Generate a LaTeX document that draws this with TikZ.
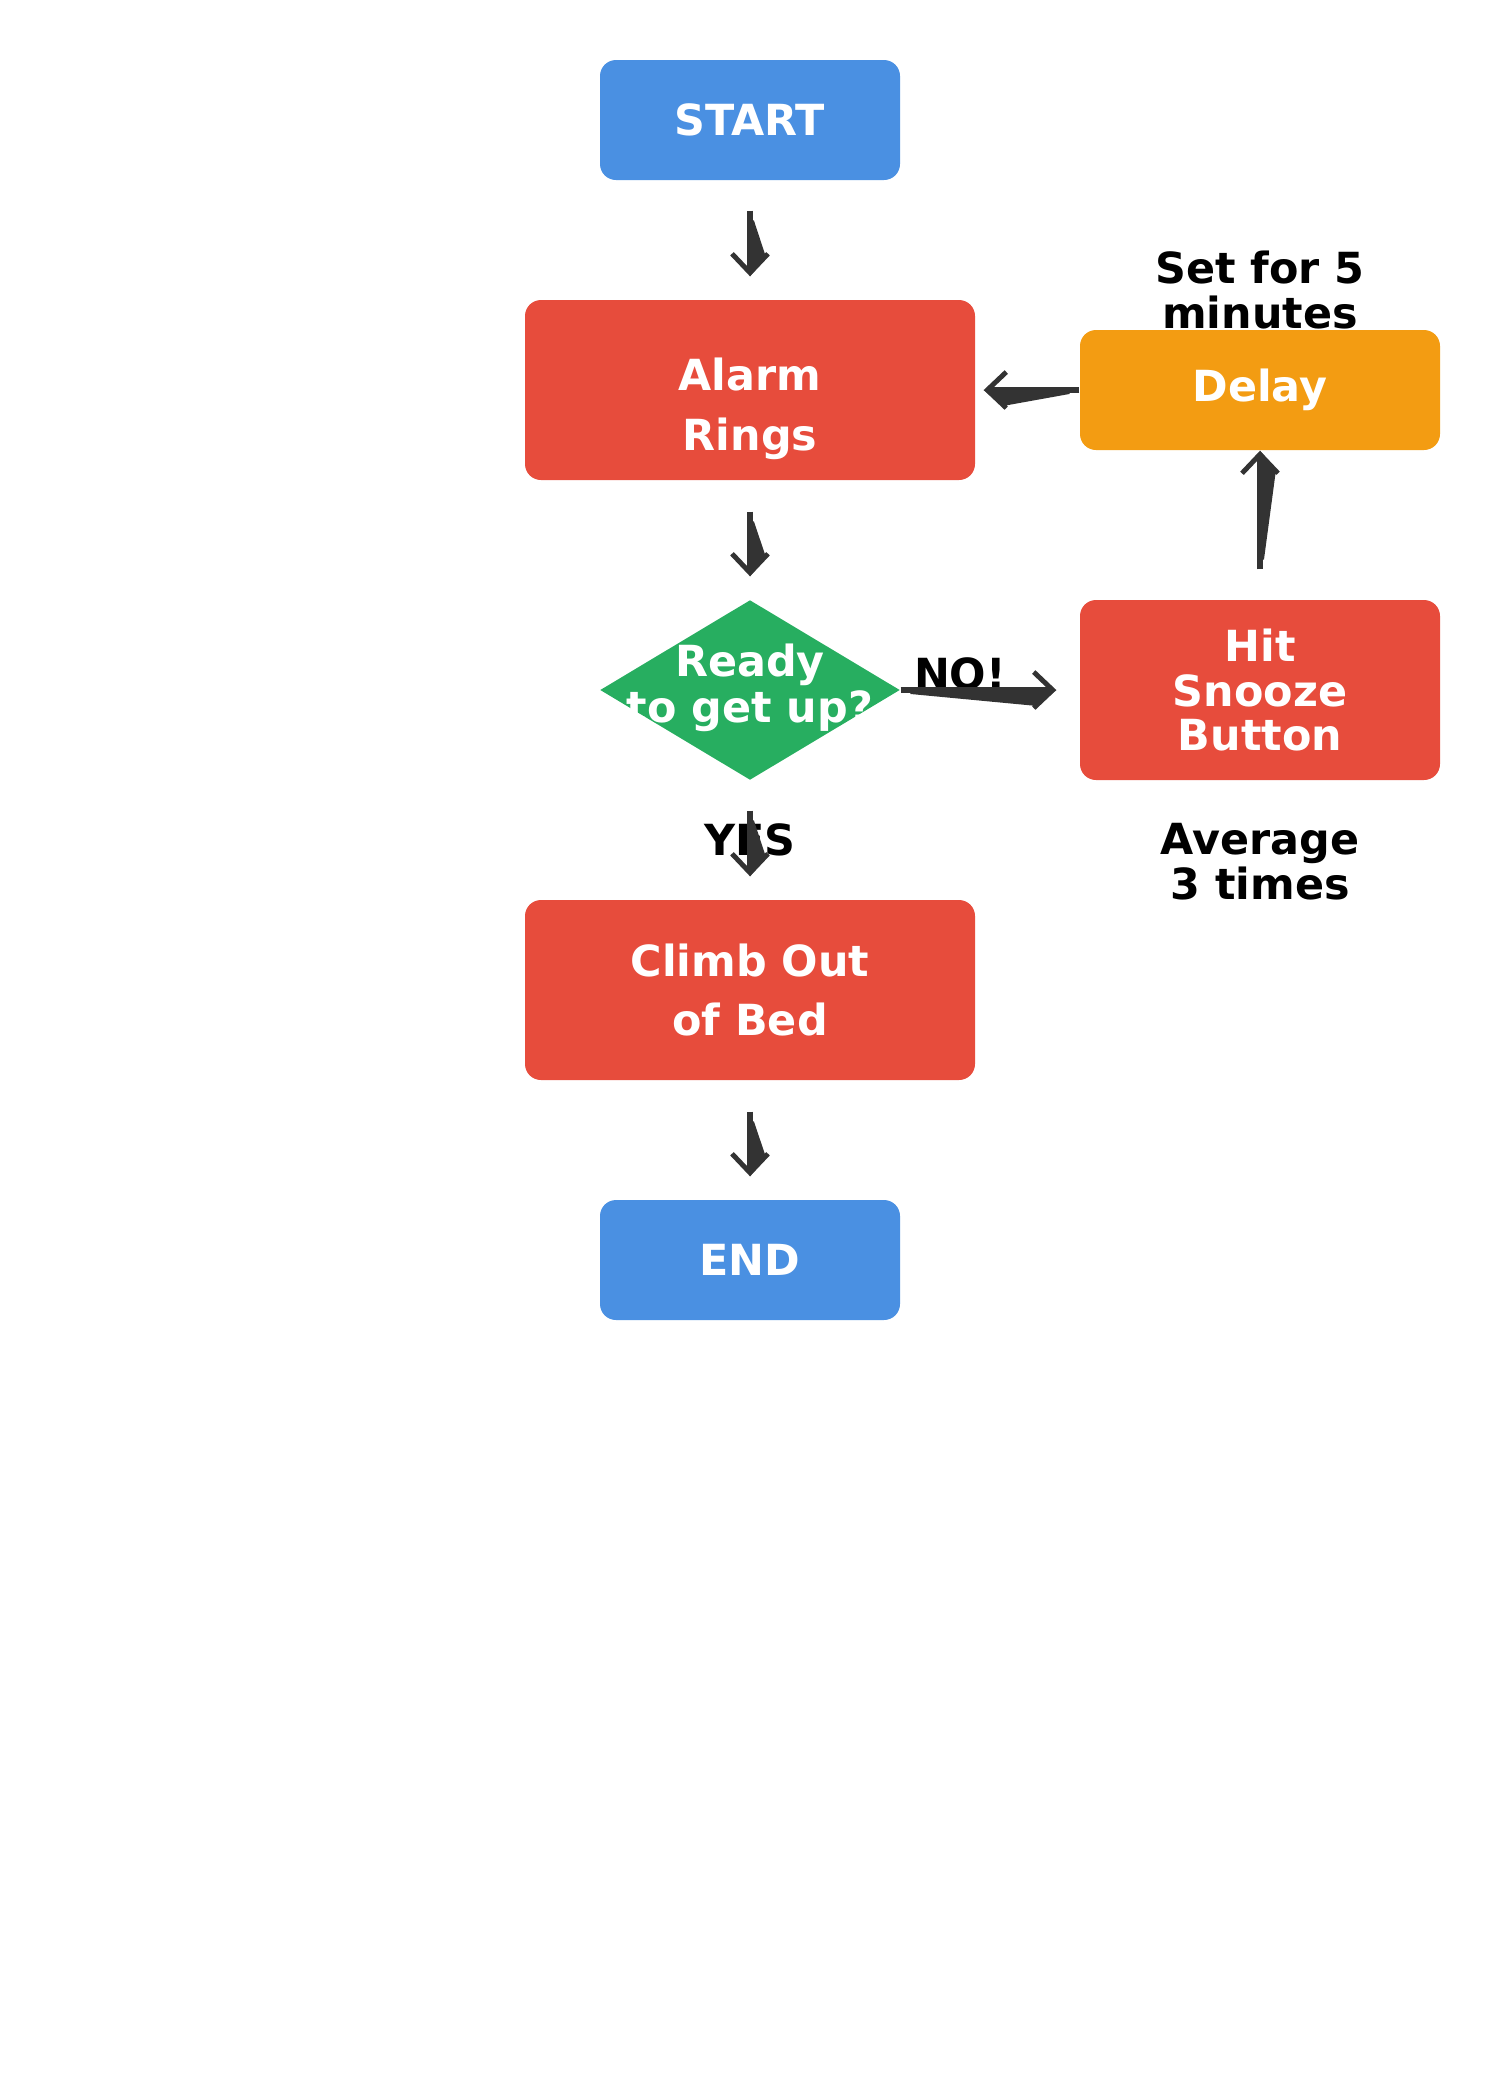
\documentclass[tikz,border=0pt]{standalone}
\usepackage{fontspec}
\setmainfont{DejaVu Sans}
\usetikzlibrary{shapes.geometric, arrows.meta, decorations.markings}

\definecolor{startblue}{HTML}{4A90E2}
\definecolor{procred}{HTML}{E74C3C}
\definecolor{delayorange}{HTML}{F39C12}
\definecolor{decgreen}{HTML}{27AE60}
\definecolor{arrowgray}{HTML}{333333}

\newcommand{\boxfont}{\fontsize{12.2}{12.8}\selectfont\bfseries}

\tikzstyle{startstop} = [rectangle, rounded corners=1.6mm,
minimum width=3cm,
minimum height=1.2cm,
text centered,
text=white,
font=\boxfont,
fill=startblue]
\tikzstyle{process} = [rectangle, rounded corners=1.6mm,
minimum width=4.5cm,
minimum height=1.8cm,
align=center,
text=white,
font=\fontsize{12.2}{17}\selectfont\bfseries,
fill=procred]
\tikzstyle{snooze} = [rectangle, rounded corners=1.6mm,
minimum width=3.6cm,
minimum height=1.8cm,
align=center,
text=white,
font=\boxfont,
fill=procred]
\tikzstyle{delaybox} = [rectangle, rounded corners=1.6mm,
minimum width=3.6cm,
minimum height=1.2cm,
text centered,
text=white,
font=\boxfont,
fill=delayorange]
\tikzstyle{decision} = [diamond,
minimum width=3cm,
minimum height=1.8cm,
inner sep=0pt,
text=white,
font=\boxfont,
fill=decgreen]
\tikzstyle{note} = [align=center, font=\boxfont]

% stem, tapered wedge and open barb: shorten start, shorten end, wedge side
\tikzset{sketch/.style n args={3}{draw=arrowgray, line width=1.7pt,
  -{Straight Barb[length=1.9mm, width=3.6mm, line width=1.4pt]},
  shorten <=#1, shorten >=#2,
  postaction={decorate, decoration={markings, mark=at position 0.5 with {
    \pgfmathsetmacro\halflen{\pgfdecoratedpathlength/2}
    \fill[arrowgray, -, shorten <=0pt, shorten >=0pt]
      ({-\halflen pt+#1+0.8mm},0) -- ({-\halflen pt+#1+1mm},{#3*0.4mm})
      -- ({\halflen pt-#2-1.9mm},{#3*1.6mm}) -- ({\halflen pt-#2},0) -- cycle;}}}}}

\begin{document}
\begin{tikzpicture}[node distance=3cm]
\useasboundingbox (0,0) rectangle (15,-21);

\node (start) [startstop] at (7.5,-1.2) {START};

\node (alarm) [process, below of=start, yshift=0.3cm] {\rule{0pt}{7mm}Alarm\\Rings};

\node (decision) [decision, below of=alarm] {\makebox[0pt]{\begin{tabular}{@{}c@{}}Ready\\to get up?\end{tabular}}};

\node (climb) [process, below of=decision] {Climb Out\\of Bed};

\node (end) [startstop, below of=climb, yshift=0.3cm] {END};

\node (delay) [delaybox, right of=alarm, xshift=2.1cm] {Delay};

\node (snooze) [snooze, right of=decision, xshift=2.1cm] {Hit\\Snooze\\Button};

\node (setnote) [note, above of=delay, node distance=1cm] {Set for 5\\minutes};
\node (avgnote) [note, below of=snooze, node distance=1.72cm] {Average\\3 times};
\node (yes) [note, below of=decision, node distance=1.5cm] {YES};
\node (no) [note, right of=decision, node distance=2.1cm, yshift=0.165cm] {NO!};

\draw [sketch={3mm}{2.3mm}{1}] (start) -- (alarm);
\draw [sketch={3.1mm}{2.3mm}{1}] (alarm) -- (decision);
\draw [sketch={3mm}{2.3mm}{1}] (decision) -- (climb);
\draw [sketch={3.1mm}{2.3mm}{1}] (climb) -- (end);
\draw [sketch={0mm}{2.3mm}{-1}] (decision) -- (snooze);
\draw [sketch={3mm}{0mm}{-1}] (snooze) -- (delay);
\draw [sketch={0mm}{0.8mm}{1}] (delay) -- (alarm);

\end{tikzpicture}
\end{document}
